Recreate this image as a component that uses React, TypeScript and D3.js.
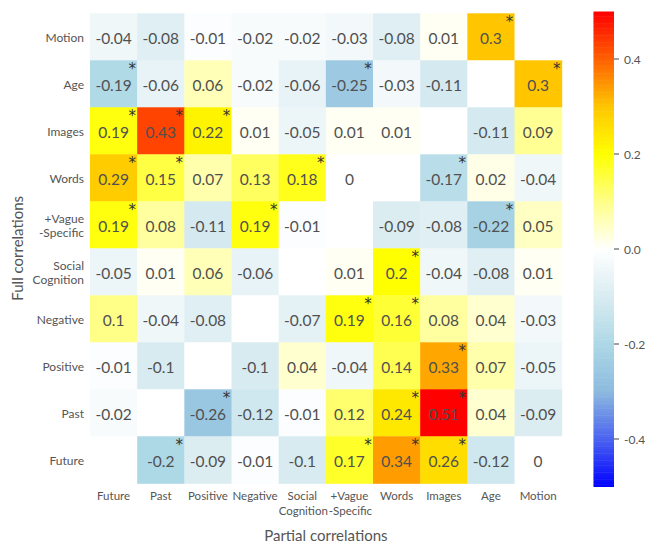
import * as d3 from 'd3'

const ROWS = ['Motion', 'Age', 'Images', 'Words', '+Vague\n-Specific', 'Social\nCognition', 'Negative', 'Positive', 'Past', 'Future']
const COLS = ['Future', 'Past', 'Positive', 'Negative', 'Social\nCognition', '+Vague\n-Specific', 'Words', 'Images', 'Age', 'Motion']

// null = diagonal (empty)
const VALUES: (number | null)[][] = [
  [-0.04, -0.08, -0.01, -0.02, -0.02, -0.03, -0.08, 0.01, 0.3, null],
  [-0.19, -0.06, 0.06, -0.02, -0.06, -0.25, -0.03, -0.11, null, 0.3],
  [0.19, 0.43, 0.22, 0.01, -0.05, 0.01, 0.01, null, -0.11, 0.09],
  [0.29, 0.15, 0.07, 0.13, 0.18, 0, null, -0.17, 0.02, -0.04],
  [0.19, 0.08, -0.11, 0.19, -0.01, null, -0.09, -0.08, -0.22, 0.05],
  [-0.05, 0.01, 0.06, -0.06, null, 0.01, 0.2, -0.04, -0.08, 0.01],
  [0.1, -0.04, -0.08, null, -0.07, 0.19, 0.16, 0.08, 0.04, -0.03],
  [-0.01, -0.1, null, -0.1, 0.04, -0.04, 0.14, 0.33, 0.07, -0.05],
  [-0.02, null, -0.26, -0.12, -0.01, 0.12, 0.24, 0.51, 0.04, -0.09],
  [null, -0.2, -0.09, -0.01, -0.1, 0.17, 0.34, 0.26, -0.12, 0]
]

const SIGNIFICANT: boolean[][] = [
  [false, false, false, false, false, false, false, false, true, false],
  [true, false, false, false, false, true, false, false, false, true],
  [true, true, true, false, false, false, false, false, false, false],
  [true, true, false, false, true, false, false, true, false, false],
  [true, false, false, true, false, false, false, false, true, false],
  [false, false, false, false, false, false, true, false, false, false],
  [false, false, false, false, false, true, true, false, false, false],
  [false, false, false, false, false, false, false, true, false, false],
  [false, false, true, false, false, false, true, true, false, false],
  [false, true, false, false, false, true, true, true, false, false]
]

const COLOR_STOPS = [-0.5, -0.4, -0.3, -0.2, -0.1, 0, 0.1, 0.2, 0.3, 0.4, 0.5]
const COLOR_RANGE = ['#0000ff', '#4a62f0', '#8cbade', '#add8e6', '#d8ebf1', '#ffffff', '#ffff88', '#ffff00', '#ffc600', '#ff6000', '#ff0000']
const CBAR_TICKS = [0.4, 0.2, 0.0, -0.2, -0.4]

const FONT = 'Lato, "Open Sans", sans-serif'
const TEXT = '#555'

export default function App() {
  const width = 645
  const height = 545
  const left = 90
  const top = 13.3
  const gridW = 471.7
  const gridH = 470

  const x = d3.scaleBand<number>().domain(d3.range(COLS.length)).range([left, left + gridW])
  const y = d3.scaleBand<number>().domain(d3.range(ROWS.length)).range([top, top + gridH])
  const color = d3.scaleLinear<string>().domain(COLOR_STOPS).range(COLOR_RANGE).clamp(true)

  const cbX = 593.5
  const cbW = 20.5
  const cbY = d3.scaleLinear().domain([0.5, -0.5]).range([11.5, 486.5])
  const cbSteps = d3.range(-0.5, 0.5, 0.005)

  return (
    <svg width={width} height={height} style={{ position: 'absolute', left: 0, top: 0, background: '#fff' }} fontFamily={FONT}>
      {VALUES.map((row, i) =>
        row.map((v, j) => (
          <g key={`${i}-${j}`}>
            <rect x={x(j)} y={y(i)} width={x.bandwidth() + 0.5} height={y.bandwidth() + 0.5} fill={v === null ? '#fff' : color(v)} />
            {v !== null && (
              <text
                x={(x(j) as number) + x.bandwidth() / 2}
                y={(y(i) as number) + y.bandwidth() / 2 + 1}
                textAnchor="middle"
                dominantBaseline="central"
                fontSize={15.5}
                fontFamily={FONT}
                fill="#505050"
              >
                {String(v)}
              </text>
            )}
            {SIGNIFICANT[i][j] && (
              <text
                x={(x(j) as number) + x.bandwidth() - 5}
                y={(y(i) as number) + 14}
                textAnchor="middle"
                fontSize={15}
                fontFamily='"DejaVu Sans", sans-serif'
                fill="#333"
              >
                *
              </text>
            )}
          </g>
        ))
      )}

      {ROWS.map((name, i) => {
        const lines = name.split('\n')
        const cy = (y(i) as number) + y.bandwidth() / 2
        return (
          <text key={name} x={left - 6} y={cy - ((lines.length - 1) * 14) / 2} textAnchor="end" dominantBaseline="central" fontSize={12} fontFamily={FONT} fill={TEXT}>
            {lines.map((l, k) => (
              <tspan key={k} x={left - 6} dy={k === 0 ? 0 : 14}>{l}</tspan>
            ))}
          </text>
        )
      })}

      {COLS.map((name, j) => {
        const lines = name.split('\n')
        const cx = (x(j) as number) + x.bandwidth() / 2
        return (
          <text key={name} x={cx} y={top + gridH + 17} textAnchor="middle" fontSize={11.5} fontFamily={FONT} fill={TEXT}>
            {lines.map((l, k) => (
              <tspan key={k} x={cx + (k === 1 ? 1 : 0)} dy={k === 0 ? 0 : 14.5}>{l}</tspan>
            ))}
          </text>
        )
      })}

      <text x={left + gridW / 2} y={541} textAnchor="middle" fontSize={15} fontFamily={FONT} fill={TEXT}>Partial correlations</text>
      <text transform={`translate(23,${top + gridH / 2}) rotate(-90)`} textAnchor="middle" fontSize={15} fontFamily={FONT} fill={TEXT}>Full correlations</text>

      {cbSteps.map((s) => (
        <rect key={s} x={cbX} y={cbY(s + 0.005)} width={cbW} height={Math.abs(cbY(s) - cbY(s + 0.005)) + 0.5} fill={color(s + 0.0025)} />
      ))}
      {CBAR_TICKS.map((t) => (
        <g key={t}>
          <line x1={cbX + cbW} x2={cbX + cbW + 5} y1={cbY(t)} y2={cbY(t)} stroke="#444" strokeWidth={1} />
          <text x={cbX + cbW + 10} y={cbY(t)} dominantBaseline="central" fontSize={12} fontFamily={FONT} fill={TEXT}>{t.toFixed(1)}</text>
        </g>
      ))}
    </svg>
  )
}
